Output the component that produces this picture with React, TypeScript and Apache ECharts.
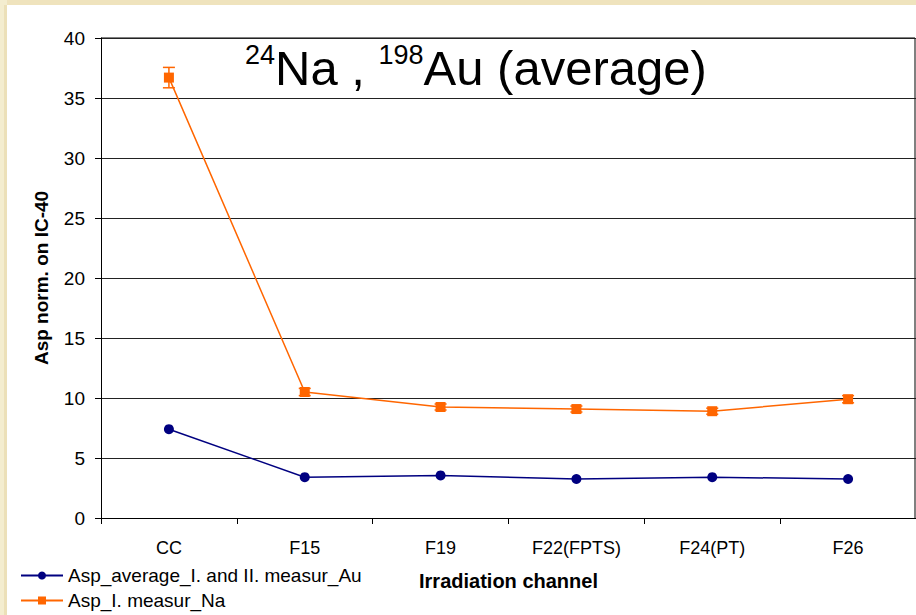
import React, { useEffect, useRef } from "react";
import * as echarts from "echarts";

const categories = ["CC", "F15", "F19", "F22(FPTS)", "F24(PT)", "F26"];
const auValues = [7.4, 3.4, 3.55, 3.25, 3.4, 3.25];
const naValues = [36.7, 10.5, 9.25, 9.08, 8.9, 9.9];
const naErrors = [0.85, 0.3, 0.25, 0.25, 0.25, 0.3];
const seriesNames = ["Asp_average_I. and II. measur_Au", "Asp_I. measur_Na"];

const NA_COLOR = "#FF6600";
const AU_COLOR = "#000080";
const FONT = "Liberation Sans, Arial, sans-serif";

export default function App() {
  const ref = useRef<HTMLDivElement>(null);
  useEffect(() => {
    if (!ref.current) return;
    const chart = echarts.init(ref.current, undefined, { renderer: "svg" });
    const errData = categories.map((_, i) => [i, naValues[i] - naErrors[i], naValues[i] + naErrors[i]]);
    const legendText = { fontSize: 19, color: "#000", fontFamily: FONT };
    chart.setOption({
      animation: false,
      backgroundColor: "#ffffff",
      textStyle: { fontFamily: FONT },
      title: {
        text: "{sup|24}{main|Na , }{sup|198}{main|Au (average)}",
        left: 240,
        top: 36,
        textStyle: {
          fontWeight: "normal",
          rich: {
            sup: { fontSize: 27, fontFamily: FONT, fontWeight: "normal", color: "#000", verticalAlign: "top", lineHeight: 54, padding: [0, 0, 17, 0] },
            main: { fontSize: 49, fontFamily: FONT, fontWeight: "normal", color: "#000", lineHeight: 54 },
          },
        },
      },
      legend: [
        {
          orient: "horizontal",
          left: 20,
          top: 566,
          padding: 0,
          itemWidth: 42,
          itemHeight: 10,
          itemGap: 6,
          data: [seriesNames[0]],
          textStyle: legendText,
        },
        {
          orient: "horizontal",
          left: 20,
          top: 591,
          padding: 0,
          itemWidth: 42,
          itemHeight: 10,
          itemGap: 6,
          data: [seriesNames[1]],
          textStyle: legendText,
        },
      ],
      grid: { left: 101, top: 38, width: 816, height: 480 },
      xAxis: {
        type: "category",
        data: categories,
        boundaryGap: true,
        name: "Irradiation channel",
        nameLocation: "middle",
        nameGap: 53,
        nameTextStyle: { fontSize: 20, fontWeight: "bold", color: "#000", fontFamily: FONT },
        axisLine: { lineStyle: { color: "#000", width: 1 } },
        axisTick: { show: true, inside: false, length: 6, lineStyle: { color: "#000" } },
        axisLabel: { fontSize: 18, color: "#000", margin: 21, fontFamily: FONT },
        splitLine: { show: false },
      },
      yAxis: {
        type: "value",
        min: 0,
        max: 40,
        interval: 5,
        name: "Asp norm. on IC-40",
        nameLocation: "middle",
        nameGap: 50,
        nameRotate: 90,
        nameTextStyle: { fontSize: 19, fontWeight: "bold", color: "#000", fontFamily: FONT },
        axisLine: { show: true, lineStyle: { color: "#000", width: 1 } },
        axisTick: { show: true, inside: false, length: 6, lineStyle: { color: "#000" } },
        axisLabel: { fontSize: 19, color: "#000", margin: 16, fontFamily: FONT },
        splitLine: { show: true, lineStyle: { color: "#222", width: 1 } },
      },
      graphic: [
        { type: "rect", shape: { x: 0, y: 0, width: 916, height: 5 }, style: { fill: "#efe3bd" }, silent: true },
        { type: "rect", shape: { x: 0, y: 0, width: 7, height: 615 }, style: { fill: "#f4edcf" }, silent: true },
        { type: "rect", shape: { x: 4, y: 5, width: 3, height: 610 }, style: { fill: "#ece0b8" }, silent: true },
        { type: "line", shape: { x1: 101, y1: 38, x2: 915, y2: 38 }, style: { stroke: "#808080", lineWidth: 2 }, silent: true },
        { type: "line", shape: { x1: 915, y1: 38, x2: 915, y2: 518 }, style: { stroke: "#808080", lineWidth: 2 }, silent: true },
      ],
      series: [
        {
          name: seriesNames[0],
          type: "line",
          data: auValues,
          color: AU_COLOR,
          symbol: "circle",
          symbolSize: 10,
          lineStyle: { color: AU_COLOR, width: 1.5 },
          itemStyle: { color: AU_COLOR },
          z: 3,
        },
        {
          name: seriesNames[1],
          type: "line",
          data: naValues,
          color: NA_COLOR,
          symbol: "rect",
          symbolSize: 10,
          lineStyle: { color: NA_COLOR, width: 1.5 },
          itemStyle: { color: NA_COLOR },
          z: 3,
        },
        {
          name: "naErr",
          type: "custom",
          data: errData,
          z: 4,
          renderItem: (params: any, api: any) => {
            const x = api.value(0);
            const lo = api.coord([x, api.value(1)]);
            const hi = api.coord([x, api.value(2)]);
            const hw = 6;
            const style = { stroke: NA_COLOR, lineWidth: 1.5 };
            return {
              type: "group",
              children: [
                { type: "line", shape: { x1: lo[0], y1: lo[1], x2: hi[0], y2: hi[1] }, style },
                { type: "line", shape: { x1: lo[0] - hw, y1: lo[1], x2: lo[0] + hw, y2: lo[1] }, style },
                { type: "line", shape: { x1: hi[0] - hw, y1: hi[1], x2: hi[0] + hw, y2: hi[1] }, style },
              ],
            };
          },
        },
      ],
    });
    return () => chart.dispose();
  }, []);
  return (
    <div
      ref={ref}
      style={{ position: "fixed", left: 0, top: 0, width: 916, height: 615 }}
    />
  );
}
